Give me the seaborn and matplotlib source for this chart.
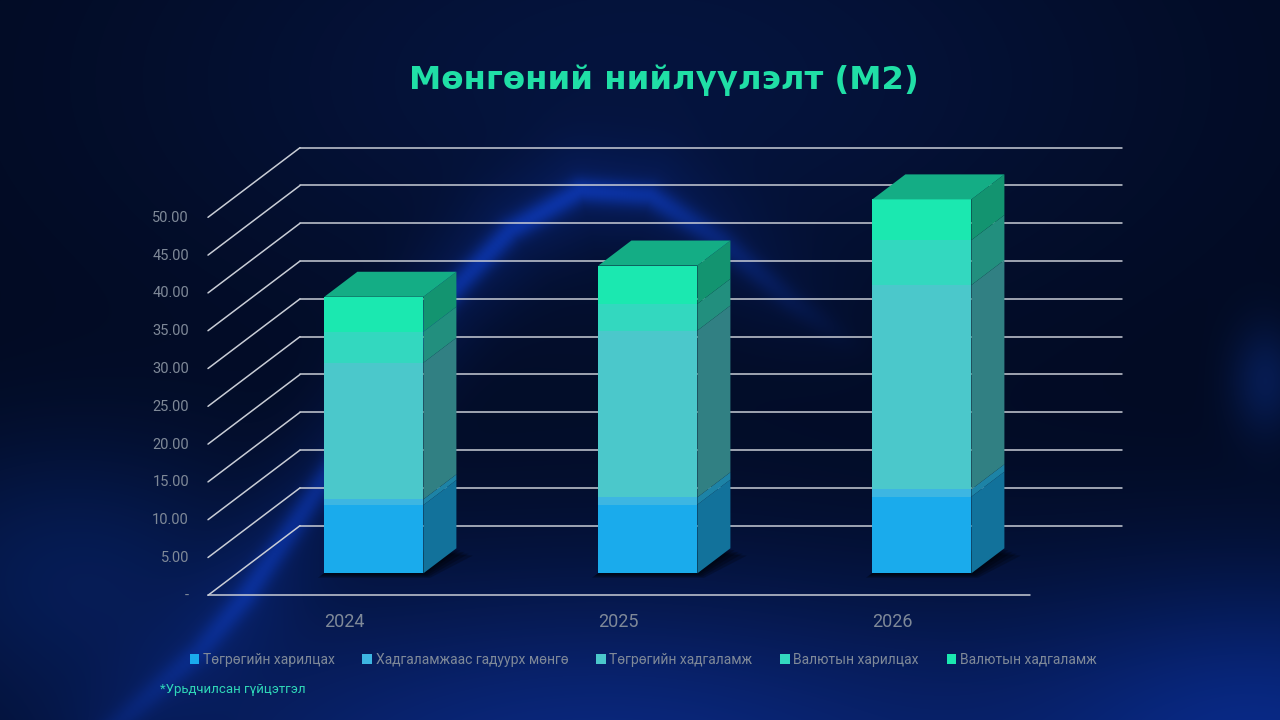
import numpy as np
import pandas as pd
import matplotlib
matplotlib.use("Agg")
import matplotlib.pyplot as plt
import matplotlib.transforms as mtransforms
from matplotlib.patches import Polygon, Patch
import seaborn as sns

# data (front face of each bar)
years = ["2024", "2025", "2026"]
series = ["Төгрөгийн харилцах", "Хадгаламжаас гадуурх мөнгө", "Төгрөгийн хадгаламж",
          "Валютын харилцах", "Валютын хадгаламж"]
tog_harilcah = [9.03, 9.09, 10.13]
gaduur_mongo = [0.75, 0.97, 0.98]
tog_hadgalamj = [18.07, 22.05, 27.02]
val_harilcah = [4.10, 3.53, 5.95]
val_hadgalamj = [4.63, 5.07, 5.38]
yticks = [0, 5, 10, 15, 20, 25, 30, 35, 40, 45, 50]
ytick_labels = ["-", "5.00", "10.00", "15.00", "20.00", "25.00", "30.00",
                "35.00", "40.00", "45.00", "50.00"]

front_colors = ["#1aabec", "#3db6e2", "#4bc8cb", "#33d8bf", "#1be8b0"]
side_colors = ["#12729b", "#1d83a6", "#318083", "#228f7e", "#139470"]
top_color = "#14ad85"
grid_color = "#c9cdd6"
label_color = "#7f8998"

rows = []
for name, vals in zip(series, [tog_harilcah, gaduur_mongo, tog_hadgalamj, val_harilcah, val_hadgalamj]):
    for y, v in zip(years, vals):
        rows.append({"year": y, "series": name, "value": v})
df = pd.DataFrame(rows)
df["top"] = df.groupby("year")["value"].cumsum()
df["bottom"] = df["top"] - df["value"]

sns.set_style("dark", {"axes.facecolor": "none"})
plt.rcParams["font.family"] = ["Liberation Sans Narrow", "Roboto", "DejaVu Sans"]

fig = plt.figure(figsize=(12.8, 7.2), dpi=100)

# background (decoration only)
H, W = 720, 1280
yy, xx = np.mgrid[0:H, 0:W].astype(float)
bg = np.zeros((H, W, 3))
bg[:] = np.array([2, 10, 32]) / 255


def glow(cx, cy, rx, ry, col):
    d = ((xx - cx) / rx) ** 2 + ((yy - cy) / ry) ** 2
    return np.exp(-d)[..., None] * np.array(col) / 255


bg += glow(640, 80, 520, 260, (3, 10, 30))
bg += glow(600, 770, 520, 200, (8, 30, 95))
bg += glow(1290, 740, 260, 170, (5, 26, 85))
bg += glow(60, 560, 200, 130, (3, 14, 40))
bg += glow(1265, 380, 35, 55, (4, 16, 45))

wave_x = [110, 200, 245, 290, 335, 390, 446, 510, 580, 650, 720, 790, 860]
wave_y = [730, 650, 596, 530, 462, 380, 297, 230, 190, 195, 240, 300, 350]
wave_s = [0.3, 0.5, 0.7, 0.8, 0.85, 0.9, 1.0, 1.0, 1.0, 0.9, 0.6, 0.3, 0.0]
t = np.linspace(0, len(wave_x) - 1, 300)
sx = np.interp(t, np.arange(len(wave_x)), wave_x)
sy = np.interp(t, np.arange(len(wave_x)), wave_y)
ss = np.interp(t, np.arange(len(wave_x)), wave_s)
core = np.zeros((H, W))
halo = np.zeros((H, W))
for px, py, s in zip(sx, sy, ss):
    d2 = (xx - px) ** 2 + (yy - py) ** 2
    core = np.maximum(core, s * np.exp(-d2 / (2 * 9 ** 2)))
    halo = np.maximum(halo, s * np.exp(-d2 / (2 * 35 ** 2)))
bg += core[..., None] * np.array([5, 24, 78]) / 255
bg += halo[..., None] * np.array([2, 9, 30]) / 255
bg = np.clip(bg, 0, 1)
bg_ax = fig.add_axes([0, 0, 1, 1], zorder=0)
bg_ax.imshow(bg, aspect="auto", extent=(0, 1, 0, 1))
bg_ax.axis("off")

# main axes = front plane of the bars
ax = fig.add_axes([236.9 / 1280, (720 - 573.3) / 720, 822 / 1280, 378 / 720], zorder=1)
ax.set_facecolor("none")
ax.set_xlim(-0.5, 2.5)
ax.set_ylim(0, 50)

px_x = 822 / 3.0      # pixels per x unit
px_y = 378 / 50.0     # pixels per y unit
bar_w = 99 / px_x
ddx, ddy = 33 / px_x, 25 / px_y            # bar depth
fdx, fdy = -28.9 / px_x, -22 / px_y        # front floor edge
bkx, bky = 63.1 / px_x, 47.6 / px_y        # back wall

# walls / grid
for v in yticks:
    ax.plot([-0.5 + fdx, -0.5 + bkx], [v + fdy, v + bky], color=grid_color, lw=1.1, clip_on=False, zorder=0.5)
    ax.plot([-0.5 + bkx, 2.5 + bkx], [v + bky, v + bky], color=grid_color, lw=1.1, clip_on=False, zorder=0.5)
ax.plot([-0.5 + fdx, 2.5 + fdx], [fdy, fdy], color=grid_color, lw=1.1, clip_on=False, zorder=0.5)

# front faces, stacked by drawing cumulative totals from the top layer down
for i in range(len(series) - 1, -1, -1):
    sub = df[df["series"] == series[i]]
    sns.barplot(data=sub, x="year", y="top", order=years, color=front_colors[i], saturation=1,
                width=bar_w, ax=ax, zorder=3, linewidth=0, errorbar=None)

# shadows, side faces and top faces
for j, yr in enumerate(years):
    xl, xr = j - bar_w / 2, j + bar_w / 2
    for k in range(4):
        e = 0.006 * (k + 1)
        ax.add_patch(Polygon([(xl - e, -e * 25), (xr + e, -e * 25), (xr + ddx + e * 2.5, ddy - e * 40),
                              (xl + ddx, ddy)], closed=True, facecolor="black", alpha=0.22,
                             lw=0, zorder=1, clip_on=False))
    sub = df[df["year"] == yr].reset_index(drop=True)
    for i in range(len(series)):
        lo, hi = sub.loc[i, "bottom"], sub.loc[i, "top"]
        ax.add_patch(Polygon([(xr, lo), (xr + ddx, lo + ddy), (xr + ddx, hi + ddy), (xr, hi)],
                             closed=True, facecolor=side_colors[i], lw=0, zorder=3, clip_on=False))
    top = sub["top"].iloc[-1]
    ax.add_patch(Polygon([(xl, top), (xl + ddx, top + ddy), (xr + ddx, top + ddy), (xr, top)],
                         closed=True, facecolor=top_color, lw=0, zorder=3, clip_on=False))

for p in ax.patches:
    p.set_clip_on(False)

# ticks
ax.set_xlabel("")
ax.set_ylabel("")
ax.set_yticks(yticks)
ax.set_yticklabels(ytick_labels)
ax.tick_params(axis="both", length=0, pad=0)
ax.tick_params(axis="y", labelsize=10.5, labelcolor=label_color)
ax.tick_params(axis="x", labelsize=13, labelcolor=label_color)
for lab in ax.get_yticklabels():
    lab.set_transform(lab.get_transform() + mtransforms.ScaledTranslation(-47.9 / 100, -21 / 100, fig.dpi_scale_trans))
for lab in ax.get_xticklabels():
    lab.set_transform(lab.get_transform() + mtransforms.ScaledTranslation(-29.5 / 100, -40 / 100, fig.dpi_scale_trans))
for s in ax.spines.values():
    s.set_visible(False)
ax.grid(False)

fig.text(664 / 1280, 1 - 80 / 720, "Мөнгөний нийлүүлэлт (М2)", ha="center", va="center",
         fontsize=23.3, fontweight="bold", color="#20dfa6",
         family=["DejaVu Sans"])

handles = [Patch(facecolor=c, edgecolor="none") for c in front_colors]
fig.legend(handles, series, loc="center", bbox_to_anchor=(643 / 1280, 1 - 660 / 720), ncol=5,
           frameon=False, fontsize=10, labelcolor=label_color, handlelength=0.7, handleheight=0.8,
           handletextpad=0.25, columnspacing=2.0)

fig.text(160 / 1280, 1 - 690 / 720, "*Урьдчилсан гүйцэтгэл", va="center", fontsize=9.5, color="#2fd8b8")

fig.savefig("out.png", dpi=100)
